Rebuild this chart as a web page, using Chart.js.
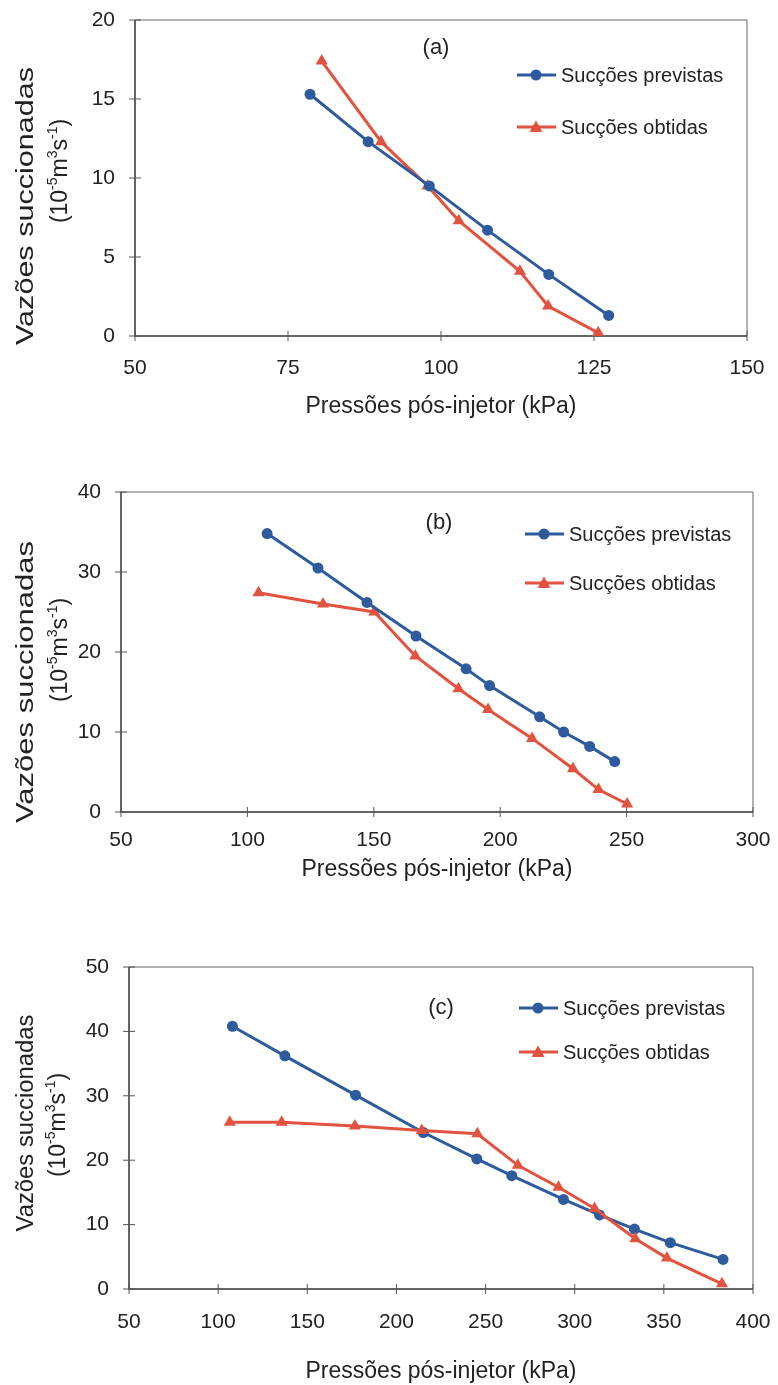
<!DOCTYPE html>
<html>
<head>
<meta charset="utf-8">
<script src="https://cdn.jsdelivr.net/npm/chart.js@4/dist/chart.umd.min.js"></script>
<style>
  html, body { margin: 0; padding: 0; background: #fff; }
  #wrap { position: relative; width: 778px; height: 1385px; }
  .box { position: absolute; left: 0; width: 778px; }
</style>
</head>
<body>
<div id="wrap">
  <div class="box" style="top:0;height:440px"><canvas id="chartA"></canvas></div>
  <div class="box" style="top:460px;height:460px"><canvas id="chartB"></canvas></div>
  <div class="box" style="top:930px;height:455px"><canvas id="chartC"></canvas></div>
</div>
<script>
// (a)
const xPrevA = [78.6, 88.1, 98.1, 107.6, 117.6, 127.4];
const yPrevA = [15.3, 12.3, 9.5, 6.7, 3.9, 1.3];
const xObtA = [80.5, 90.2, 97.8, 102.9, 112.9, 117.5, 125.7];
const yObtA = [17.4, 12.3, 9.5, 7.3, 4.1, 1.9, 0.2];

// (b)
const xPrevB = [107.8, 127.9, 147.3, 166.7, 186.5, 195.8, 215.6, 225.1, 235.4, 245.3];
const yPrevB = [34.8, 30.5, 26.2, 22.0, 17.9, 15.8, 11.9, 10.0, 8.2, 6.3];
const xObtB = [104.4, 129.9, 150.2, 166.4, 183.5, 195.2, 212.6, 228.8, 238.9, 250.2];
const yObtB = [27.4, 26.0, 25.0, 19.5, 15.4, 12.8, 9.2, 5.4, 2.8, 1.0];

// (c)
const xPrevC = [108.0, 137.4, 177.1, 215.1, 245.1, 264.7, 293.7, 313.9, 333.5, 353.6, 383.2];
const yPrevC = [40.8, 36.2, 30.1, 24.3, 20.2, 17.6, 13.9, 11.5, 9.3, 7.2, 4.6];
const xObtC = [106.5, 135.6, 176.7, 214.2, 245.4, 268.1, 290.9, 311.1, 334.0, 351.7, 382.6];
const yObtC = [25.9, 25.9, 25.3, 24.6, 24.1, 19.2, 15.8, 12.5, 7.8, 4.8, 0.8];

const seriesNames = ['Sucções previstas', 'Sucções obtidas'];
const yTitle = 'Vazões succionadas';
const yUnit = [['(10', false], ['-5', true], ['m', false], ['3', true], ['s', false], ['-1', true], [')', false]];
const xTitle = 'Pressões pós-injetor (kPa)';

const BLUE = '#2e5a9e';
const RED = '#e2533f';
const FONT = '"Liberation Sans", Arial, sans-serif';
const W = 778;

function toPoints(xs, ys) {
    return xs.map((x, i) => ({ x: x, y: ys[i] }));
}

// draws a run of text rotated -90deg, centred on cy, optionally stretched to len
function drawRotated(ctx, parts, baseX, cy, size, len) {
    ctx.save();
    const supSize = Math.round(size * 0.62);
    let total = 0;
    parts.forEach(p => {
        ctx.font = (p[1] ? supSize : size) + 'px ' + FONT;
        total += ctx.measureText(p[0]).width;
    });
    const sx = len ? len / total : 1;
    ctx.translate(baseX, cy);
    ctx.rotate(-Math.PI / 2);
    ctx.scale(sx, 1);
    ctx.fillStyle = '#222';
    ctx.textBaseline = 'alphabetic';
    ctx.textAlign = 'left';
    let x = -total / 2;
    parts.forEach(p => {
        ctx.font = (p[1] ? supSize : size) + 'px ' + FONT;
        ctx.fillText(p[0], x, p[1] ? -size * 0.45 : 0);
        x += ctx.measureText(p[0]).width;
    });
    ctx.restore();
}

const decorPlugin = {
    id: 'decor',
    beforeDatasetsDraw(chart, args, o) {
        const ctx = chart.ctx;
        const a = chart.chartArea;
        ctx.save();
        // frame
        ctx.strokeStyle = '#666';
        ctx.lineWidth = 1;
        ctx.beginPath();
        ctx.moveTo(a.left, a.top);
        ctx.lineTo(a.right, a.top);
        ctx.lineTo(a.right, a.bottom);
        ctx.stroke();
        ctx.strokeStyle = '#333';
        ctx.lineWidth = 1.5;
        ctx.beginPath();
        ctx.moveTo(a.left, a.top);
        ctx.lineTo(a.left, a.bottom);
        ctx.lineTo(a.right, a.bottom);
        ctx.stroke();
        // tick marks crossing the axes
        ctx.strokeStyle = '#555';
        ctx.lineWidth = 1;
        const xs = chart.scales.x, ys = chart.scales.y;
        xs.ticks.forEach(t => {
            const px = xs.getPixelForValue(t.value);
            ctx.beginPath();
            ctx.moveTo(px, a.bottom - 5);
            ctx.lineTo(px, a.bottom + 5);
            ctx.stroke();
        });
        ys.ticks.forEach(t => {
            const py = ys.getPixelForValue(t.value);
            ctx.beginPath();
            ctx.moveTo(a.left - 6, py);
            ctx.lineTo(a.left + 6, py);
            ctx.stroke();
        });
        ctx.restore();
    },
    afterDraw(chart, args, o) {
        const ctx = chart.ctx;
        const a = chart.chartArea;
        ctx.save();
        // panel letter
        ctx.fillStyle = '#222';
        ctx.font = '22px ' + FONT;
        ctx.textAlign = 'center';
        ctx.textBaseline = 'middle';
        ctx.fillText(o.tag, o.tagX, o.tagY);
        // x title
        ctx.font = '23px ' + FONT;
        ctx.fillText(xTitle, (a.left + a.right) / 2, o.xTitleY);
        // legend
        const colors = [BLUE, RED];
        o.legendRows.forEach((ry, i) => {
            ctx.strokeStyle = colors[i];
            ctx.fillStyle = colors[i];
            ctx.lineWidth = 3;
            ctx.beginPath();
            ctx.moveTo(o.legendX, ry);
            ctx.lineTo(o.legendX + 39, ry);
            ctx.stroke();
            const mx = o.legendX + 19;
            ctx.beginPath();
            if (i === 0) {
                ctx.arc(mx, ry, 5.5, 0, Math.PI * 2);
            } else {
                ctx.moveTo(mx, ry - 6.5);
                ctx.lineTo(mx + 6.5, ry + 5);
                ctx.lineTo(mx - 6.5, ry + 5);
                ctx.closePath();
            }
            ctx.fill();
            ctx.fillStyle = '#222';
            ctx.font = '20px ' + FONT;
            ctx.textAlign = 'left';
            ctx.fillText(seriesNames[i], o.legendX + 44, ry + 1);
        });
        ctx.restore();
        // y title, two lines
        drawRotated(ctx, [[yTitle, false]], 33, o.yLine1[0], 23, o.yLine1[1]);
        drawRotated(ctx, yUnit, o.yLine2[1], o.yLine2[0], 23, null);
    }
};

function makeChart(id, cfg) {
    const datasets = [
        {
            label: seriesNames[0],
            data: toPoints(cfg.xPrev, cfg.yPrev),
            borderColor: BLUE,
            backgroundColor: BLUE,
            borderWidth: 3,
            pointStyle: 'circle',
            pointRadius: 5.5,
            pointBorderWidth: 0,
            showLine: true,
            order: cfg.redOnTop ? 1 : 0
        },
        {
            label: seriesNames[1],
            data: toPoints(cfg.xObt, cfg.yObt),
            borderColor: RED,
            backgroundColor: RED,
            borderWidth: 3,
            pointStyle: 'triangle',
            pointRadius: 7,
            pointBorderWidth: 0,
            showLine: true,
            order: cfg.redOnTop ? 0 : 1
        }
    ];

    return new Chart(document.getElementById(id), {
        type: 'scatter',
        data: { datasets: datasets },
        options: {
            responsive: true,
            maintainAspectRatio: false,
            animation: false,
            layout: {
                padding: { left: 0, right: W - cfg.box.right, top: cfg.box.top, bottom: 0 }
            },
            plugins: {
                legend: { display: false },
                tooltip: { enabled: false },
                decor: cfg.decor
            },
            scales: {
                x: {
                    type: 'linear',
                    min: cfg.xMin,
                    max: cfg.xMax,
                    grid: { display: false, drawTicks: false },
                    border: { display: false },
                    ticks: {
                        stepSize: cfg.xStep,
                        padding: cfg.xPad,
                        color: '#222',
                        font: { family: FONT, size: 21 }
                    },
                    afterFit(scale) {
                        scale.height = cfg.height - cfg.box.bottom;
                        scale.paddingLeft = 0;
                        scale.paddingRight = 0;
                    }
                },
                y: {
                    type: 'linear',
                    min: 0,
                    max: cfg.yMax,
                    grid: { display: false, drawTicks: false },
                    border: { display: false },
                    ticks: {
                        stepSize: cfg.yStep,
                        padding: 20,
                        color: '#222',
                        font: { family: FONT, size: 21 }
                    },
                    afterFit(scale) {
                        scale.width = cfg.box.left;
                        scale.paddingTop = 0;
                        scale.paddingBottom = 0;
                    }
                }
            }
        },
        plugins: [decorPlugin]
    });
}

makeChart('chartA', {
    height: 440,
    box: { left: 135, right: 747, top: 20, bottom: 336 },
    xPrev: xPrevA, yPrev: yPrevA, xObt: xObtA, yObt: yObtA,
    xMin: 50, xMax: 150, xStep: 25, yMax: 20, yStep: 5, xPad: 20,
    decor: {
        tag: '(a)', tagX: 436, tagY: 48, xTitleY: 407,
        legendX: 517, legendRows: [75, 127],
        yLine1: [206, 278], yLine2: [171, 67]
    }
});

makeChart('chartB', {
    height: 460,
    box: { left: 121, right: 753, top: 32, bottom: 352 },
    xPrev: xPrevB, yPrev: yPrevB, xObt: xObtB, yObt: yObtB,
    xMin: 50, xMax: 300, xStep: 50, yMax: 40, yStep: 10, xPad: 16,
    decor: {
        tag: '(b)', tagX: 439, tagY: 63, xTitleY: 410,
        legendX: 525, legendRows: [74, 123],
        yLine1: [222, 282], yLine2: [190, 67]
    }
});

makeChart('chartC', {
    height: 455,
    box: { left: 129, right: 753, top: 37, bottom: 359 },
    xPrev: xPrevC, yPrev: yPrevC, xObt: xObtC, yObt: yObtC,
    xMin: 50, xMax: 400, xStep: 50, yMax: 50, yStep: 10, xPad: 21,
    redOnTop: true,
    decor: {
        tag: '(c)', tagX: 441, tagY: 78, xTitleY: 442,
        legendX: 519, legendRows: [78, 122],
        yLine1: [193, 217], yLine2: [195, 65]
    }
});
</script>
</body>
</html>
